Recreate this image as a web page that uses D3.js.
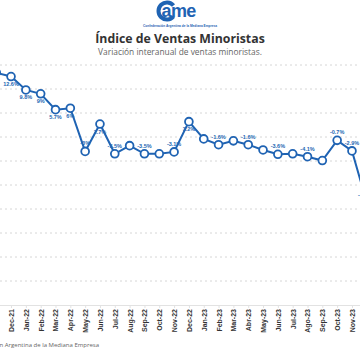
<html>
<head>
  <meta charset="utf-8">
  <script src="https://d3js.org/d3.v7.min.js"></script>
  <style>
  body { margin: 0; background: #fff; }
  .grid { stroke: #d6d6d6; stroke-dasharray: 2,3; }
  .xaxis path, .xaxis line { stroke: #e2e2e2; }
  .xaxis text { font-family: "Liberation Sans", Arial, sans-serif; font-weight: bold; font-size: 7px; fill: #333; }
  .lbl { font-family: "Liberation Sans", Arial, sans-serif; font-weight: bold; font-size: 5.5px; fill: #2467b3; }
  </style>
</head>
<body>
<svg id="chart" width="360" height="360"></svg>
<script>
// months and values (variación interanual, %)
const months = ["Nov-21","Dec-21","Jan-22","Feb-22","Mar-22","Apr-22","May-22","Jun-22","Jul-22","Aug-22","Sep-22","Oct-22","Nov-22",
                "Dec-22","Jan-23","Feb-23","Mar-23","Abr-23","May-23","Jun-23","Jul-23","Ago-23","Sep-23","Oct-23","Nov-23","Dec-23"];
const values = [13.4,12.6,9.8,9.0,5.7,6.0,-3.0,2.7,-3.5,-1.8,-3.5,-3.5,-3.1,
                3.2,-0.4,-1.6,-0.8,-1.6,-2.7,-3.6,-3.5,-4.1,-4.9,-0.7,-2.9,-13.7];
// data labels shown on the chart ("" = none)
const labels = ["","12.6%","9.8%","9%","5.7%","6%","-3%","2.7%","-3.5%","","-3.5%","","-3.1%",
                "3.2%","","-1.6%","","-1.6%","","-3.6%","","-4.1%","","-0.7%","-2.9%","-13.7%"];
// tick labels that fall inside the picture
const tickMonths = months.slice(1, 25);
const gridValues = [-30,-25,-20,-15,-10,-5,0,5,10,15];

const svg = d3.select("#chart");
const W = 360, H = 360;
const blue = "#1f63b3";

svg.append("rect").attr("width", W).attr("height", H).attr("fill", "#fff");

// logo
const logo = svg.append("g");
logo.append("path")
  .attr("d", d3.arc().innerRadius(6.5).outerRadius(10.5).startAngle(0.7).endAngle(2 * Math.PI - 0.7)())
  .attr("transform", "translate(167,11) rotate(90)")
  .attr("fill", blue);
logo.append("text").attr("x", 161.5).attr("y", 17)
  .style("font-family", "Liberation Sans, Arial, sans-serif").style("font-weight", "bold").style("font-size", "18px")
  .style("letter-spacing", "-0.6px")
  .attr("fill", blue).text("ame");
logo.append("text").attr("x", 180).attr("y", 26.5).attr("text-anchor", "middle")
  .style("font-family", "Liberation Sans, Arial, sans-serif").style("font-weight", "bold").style("font-size", "3.2px")
  .attr("fill", blue).text("Confederación Argentina de la Mediana Empresa");

svg.append("text").attr("x", 180).attr("y", 42.5).attr("text-anchor", "middle")
  .style("font-family", "Open Sans, sans-serif").style("font-weight", "bold").style("font-size", "12.3px")
  .attr("fill", "#333").text("Índice de Ventas Minoristas");
svg.append("text").attr("x", 180).attr("y", 55).attr("text-anchor", "middle")
  .style("font-family", "Open Sans, sans-serif").style("font-size", "8.4px")
  .attr("fill", "#666").text("Variación interanual de ventas minoristas.");

const x = d3.scalePoint().domain(months).range([-3.8, 366.8]);
const y = d3.scaleLinear().domain([-35, 15]).range([305, 65]);

svg.selectAll(".grid").data(gridValues).enter()
  .append("line").attr("class", "grid")
  .attr("x1", 0).attr("x2", W)
  .attr("y1", d => y(d)).attr("y2", d => y(d));

const xAxis = svg.append("g").attr("class", "xaxis")
  .attr("transform", "translate(0," + y(-35) + ")")
  .call(d3.axisBottom(x).tickValues(tickMonths).tickSize(3).tickSizeOuter(0));
xAxis.select(".domain").attr("d", "M0,0.5H" + W);
xAxis.selectAll("text")
  .attr("transform", "rotate(-90)")
  .attr("x", -4).attr("y", 0).attr("dy", "0.35em")
  .style("text-anchor", "end");

const data = months.map((m, i) => ({ m: m, v: values[i], l: labels[i] }));

const line = d3.line().x(d => x(d.m)).y(d => y(d.v));
svg.append("path").datum(data)
  .attr("d", line).attr("fill", "none")
  .attr("stroke", blue).attr("stroke-width", 2);

svg.selectAll(".dot").data(data).enter()
  .append("circle").attr("class", "dot")
  .attr("cx", d => x(d.m)).attr("cy", d => y(d.v)).attr("r", 3.9)
  .attr("fill", "#fff").attr("stroke", blue).attr("stroke-width", 1.8);

svg.selectAll(".lbl").data(data.filter(d => d.l)).enter()
  .append("text").attr("class", "lbl")
  .attr("x", d => x(d.m)).attr("text-anchor", "middle")
  .attr("y", d => d.v >= 0 ? y(d.v) + 9.5 : y(d.v) - 6)
  .text(d => d.l);

svg.append("text").attr("x", 99).attr("y", 347).attr("text-anchor", "end")
  .style("font-family", "Open Sans, sans-serif").style("font-size", "6px")
  .attr("fill", "#666").text("Fuente: Confederación Argentina de la Mediana Empresa");
</script>
</body>
</html>
